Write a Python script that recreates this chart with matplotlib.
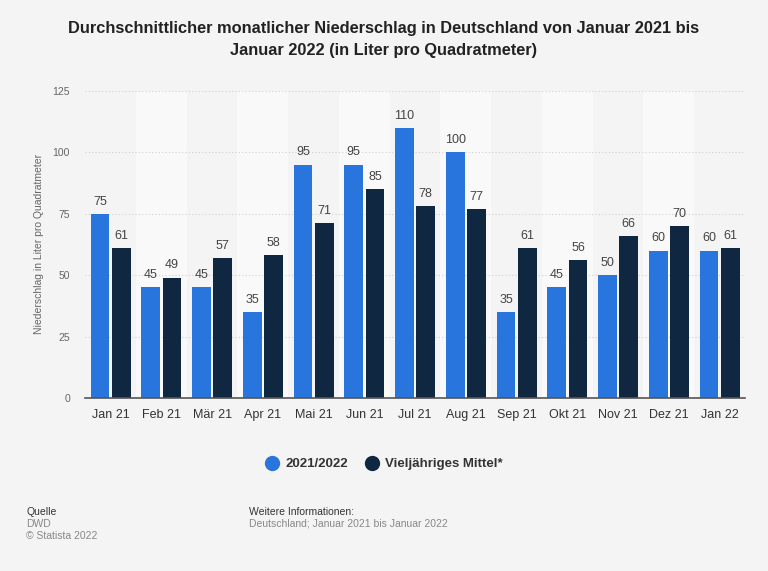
import numpy as np
import matplotlib.pyplot as plt
from matplotlib.lines import Line2D

plt.rcParams['font.family'] = ['Liberation Sans', 'DejaVu Sans']

months = ['Jan 21', 'Feb 21', 'Mär 21', 'Apr 21', 'Mai 21', 'Jun 21', 'Jul 21',
          'Aug 21', 'Sep 21', 'Okt 21', 'Nov 21', 'Dez 21', 'Jan 22']
actual = [75, 45, 45, 35, 95, 95, 110, 100, 35, 45, 50, 60, 60]
longterm = [61, 49, 57, 58, 71, 85, 78, 77, 61, 56, 66, 70, 61]
yticks = [0, 25, 50, 75, 100, 125]
series_names = ['2021/2022', 'Vieljähriges Mittel*']

blue = '#2876dd'
navy = '#0f2741'
bg = '#f4f4f4'

fig = plt.figure(figsize=(7.68, 5.71), dpi=100, facecolor=bg)
ax = fig.add_axes([0.111, 0.303, 0.859, 0.538], facecolor=bg)

x = np.arange(len(months))
w = 0.37
gap = 0.025

# alternating light bands
for i in x:
    if i % 2 == 1:
        ax.axvspan(i - 0.5, i + 0.5, color='#f9f9f9', zorder=0, lw=0)

ax.bar(x - w / 2 - gap, actual, w, color=blue, zorder=3)
ax.bar(x + w / 2 + gap, longterm, w, color=navy, zorder=3)

for i in x:
    ax.text(i - w / 2 - gap, actual[i] + 2.5, str(actual[i]), ha='center', va='bottom',
            fontsize=9, color='#444444')
    ax.text(i + w / 2 + gap, longterm[i] + 2.5, str(longterm[i]), ha='center', va='bottom',
            fontsize=9, color='#444444')

ax.set_xlim(-0.5, len(months) - 0.5)
ax.set_ylim(0, 125)
ax.set_yticks(yticks)
ax.set_yticklabels([str(t) for t in yticks], fontsize=7.5, color='#666666')
ax.set_xticks(x)
ax.set_xticklabels(months, fontsize=9, color='#333333')
ax.tick_params(axis='both', length=0)
ax.tick_params(axis='y', pad=11)
ax.tick_params(axis='x', pad=8)
ax.grid(axis='y', color='#d0d0d0', linestyle=(0, (1, 2)), lw=0.8, zorder=1)
for s in ['top', 'right', 'left']:
    ax.spines[s].set_visible(False)
ax.spines['bottom'].set_color('#555555')
ax.spines['bottom'].set_linewidth(1.2)
ax.spines['bottom'].set_zorder(4)

ax.set_ylabel('Niederschlag in Liter pro Quadratmeter', fontsize=7.5, color='#666666', labelpad=6)

fig.text(0.5, 1 - 28 / 571, 'Durchschnittlicher monatlicher Niederschlag in Deutschland von Januar 2021 bis',
         ha='center', va='center', fontsize=11.8, fontweight='bold', color='#222222')
fig.text(0.5, 1 - 50 / 571, 'Januar 2022 (in Liter pro Quadratmeter)',
         ha='center', va='center', fontsize=11.8, fontweight='bold', color='#222222')

handles = [Line2D([], [], marker='o', ls='', markersize=10, color=blue),
           Line2D([], [], marker='o', ls='', markersize=10, color=navy)]
leg = fig.legend(handles, series_names, loc='center',
                 bbox_to_anchor=(0.5, 0.187), ncol=2, frameon=False, handlelength=1.0,
                 handletextpad=0.5, columnspacing=1.3, prop={'size': 9.5, 'weight': 'bold'})
for t in leg.get_texts():
    t.set_color('#333333')

fig.text(0.034, 1 - 511.7 / 571, 'Quelle', fontsize=7.5, color='#333333', va='center')
fig.text(0.034, 1 - 524 / 571, 'DWD', fontsize=7.5, color='#888888', va='center')
fig.text(0.034, 1 - 535.7 / 571, '© Statista 2022', fontsize=7.5, color='#888888', va='center')
fig.text(0.324, 1 - 511.7 / 571, 'Weitere Informationen:', fontsize=7.5, color='#333333', va='center')
fig.text(0.324, 1 - 524 / 571, 'Deutschland; Januar 2021 bis Januar 2022', fontsize=7.5,
         color='#888888', va='center')

fig.savefig('out.png', dpi=100, facecolor=bg)
